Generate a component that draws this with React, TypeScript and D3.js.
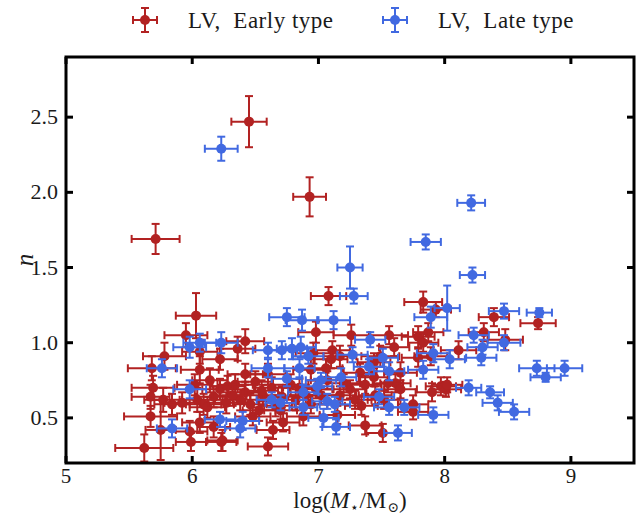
import React from "react";
import * as d3 from "d3";

// Early type (red): [logM, n, xerr, nerr]
const earlyX = [6.45,6.93,5.71,7.08,7.83,8.39,8.74,8.31,8.48,8.11,7.93,7.56,7.60,7.79,7.87,7.83,7.79,7.89,7.49,7.44,7.65,7.61,7.55,7.65,7.97,8.01,7.90,8.02,7.75,7.75,7.37,7.51,6.98,7.26,7.11,7.17,7.10,6.96,6.94,7.33,7.20,7.07,6.60,6.72,6.64,6.48,6.88,7.15,6.42,6.36,6.22,6.03,5.95,5.78,5.68,5.69,5.67,5.62,5.75,5.98,6.06,6.06,6.14,6.04,6.09,6.17,6.22,6.28,5.77,5.84,5.92,6.06,6.17,6.24,5.67,5.99,6.23,6.34,6.42,6.50,6.56,6.63,6.71,6.78,6.38,6.46,6.32,6.60,6.53,6.82,6.90,6.98,6.42,6.70,7.02,7.25,7.37,7.29,7.17,7.45,6.94,7.06,7.44,6.12,6.27,6.55,6.66,7.34,7.52,6.85,6.02];
const earlyN = [2.47,1.97,1.69,1.31,1.27,1.17,1.13,1.07,1.02,0.95,1.22,1.05,0.97,1.04,1.07,1.00,0.90,0.91,0.91,0.87,0.80,0.73,0.73,0.69,0.71,0.69,0.67,0.72,0.59,0.54,0.45,0.40,1.07,1.05,0.95,0.91,0.89,0.93,0.82,0.80,0.73,0.75,0.31,0.47,0.42,0.51,0.51,0.52,1.01,0.96,0.89,1.18,1.05,0.91,0.83,0.70,0.51,0.30,0.42,0.41,0.94,0.82,0.75,0.62,0.59,0.64,0.69,0.71,0.62,0.59,0.60,0.47,0.44,0.35,0.64,0.34,0.34,0.72,0.67,0.74,0.65,0.70,0.64,0.72,0.62,0.59,0.65,0.79,0.55,0.62,0.65,0.69,0.79,0.55,0.65,0.69,0.72,0.62,0.65,0.65,0.59,0.83,0.77,0.57,0.60,0.68,0.58,0.58,0.62,0.70,0.72];
const earlyXErr = [0.14,0.13,0.19,0.14,0.15,0.12,0.14,0.12,0.14,0.14,0.12,0.15,0.12,0.13,0.12,0.12,0.13,0.13,0.15,0.13,0.13,0.12,0.12,0.13,0.12,0.12,0.13,0.12,0.12,0.12,0.13,0.13,0.14,0.14,0.14,0.13,0.13,0.14,0.14,0.13,0.13,0.13,0.16,0.13,0.13,0.14,0.13,0.14,0.15,0.14,0.14,0.16,0.17,0.17,0.19,0.17,0.21,0.23,0.12,0.14,0.14,0.15,0.14,0.14,0.14,0.14,0.14,0.14,0.15,0.14,0.14,0.14,0.13,0.12,0.15,0.12,0.12,0.14,0.14,0.14,0.13,0.14,0.13,0.14,0.14,0.13,0.14,0.14,0.13,0.13,0.14,0.13,0.14,0.13,0.13,0.13,0.13,0.13,0.13,0.13,0.13,0.13,0.12,0.14,0.14,0.13,0.13,0.13,0.13,0.13,0.14];
const earlyNErr = [0.17,0.13,0.10,0.06,0.07,0.06,0.04,0.06,0.07,0.06,0.05,0.06,0.06,0.07,0.06,0.06,0.06,0.06,0.07,0.06,0.07,0.06,0.06,0.06,0.06,0.05,0.06,0.05,0.06,0.05,0.06,0.06,0.07,0.07,0.06,0.07,0.06,0.07,0.07,0.06,0.06,0.06,0.06,0.06,0.06,0.06,0.06,0.06,0.08,0.08,0.07,0.15,0.08,0.09,0.08,0.08,0.07,0.09,0.20,0.07,0.08,0.09,0.08,0.08,0.07,0.07,0.07,0.07,0.08,0.07,0.07,0.07,0.07,0.07,0.08,0.06,0.06,0.07,0.07,0.07,0.07,0.07,0.07,0.07,0.07,0.07,0.07,0.07,0.07,0.07,0.07,0.06,0.07,0.06,0.06,0.06,0.06,0.06,0.06,0.06,0.06,0.06,0.06,0.07,0.07,0.07,0.07,0.06,0.06,0.06,0.07];

// Late type (blue)
const lateX = [6.23,7.85,8.21,8.22,7.25,7.28,8.02,7.89,8.47,8.75,8.23,8.30,8.47,8.29,8.04,7.91,7.51,7.41,7.27,6.92,7.83,7.56,7.40,7.18,7.02,6.99,6.88,7.48,7.56,7.68,7.91,7.63,7.14,7.04,8.19,8.36,8.42,8.55,8.73,8.95,8.80,6.88,6.75,6.87,7.12,6.06,6.23,5.98,6.60,6.71,6.79,6.86,6.60,6.85,5.76,6.75,5.98,6.63,6.70,7.07,7.13,6.22,6.40,6.38,5.84];
const lateN = [2.29,1.67,1.93,1.45,1.50,1.31,1.23,1.17,1.21,1.20,1.05,0.97,1.00,0.90,0.89,0.93,0.90,1.02,0.92,0.91,0.82,0.81,0.84,0.77,0.75,0.71,0.67,0.64,0.57,0.57,0.52,0.40,0.44,0.50,0.70,0.67,0.60,0.54,0.83,0.83,0.77,0.57,1.17,1.15,1.15,1.00,1.00,0.97,0.95,0.95,0.96,0.97,0.83,0.83,0.83,0.76,0.69,0.62,0.60,0.61,0.59,0.49,0.48,0.43,0.43];
const lateXErr = [0.13,0.12,0.11,0.10,0.10,0.11,0.10,0.13,0.12,0.10,0.12,0.12,0.13,0.12,0.12,0.13,0.12,0.12,0.12,0.12,0.12,0.12,0.12,0.12,0.12,0.12,0.12,0.12,0.12,0.12,0.12,0.11,0.11,0.12,0.10,0.11,0.12,0.12,0.14,0.14,0.12,0.11,0.14,0.13,0.13,0.13,0.13,0.13,0.12,0.12,0.12,0.12,0.13,0.12,0.12,0.12,0.13,0.12,0.12,0.12,0.12,0.12,0.13,0.12,0.12];
const lateNErr = [0.08,0.05,0.05,0.05,0.14,0.05,0.15,0.07,0.05,0.03,0.05,0.05,0.05,0.05,0.06,0.06,0.06,0.05,0.05,0.05,0.06,0.06,0.05,0.06,0.05,0.05,0.05,0.05,0.05,0.05,0.05,0.05,0.05,0.06,0.05,0.04,0.05,0.05,0.05,0.05,0.03,0.05,0.06,0.07,0.06,0.06,0.07,0.07,0.05,0.06,0.07,0.07,0.06,0.06,0.06,0.05,0.06,0.05,0.05,0.05,0.05,0.05,0.06,0.06,0.06];

const xTicks = [5, 6, 7, 8, 9];
const yTicks = [0.5, 1.0, 1.5, 2.0, 2.5];
const legendLabels = ["LV,  Early type", "LV,  Late type"];

const RED = "#b22222";
const BLUE = "#4169e1";
const FONT = "'Liberation Serif', 'DejaVu Serif', serif";

const W = 636, H = 517;
const L = 66, R = 634, T = 57, B = 463;

function ErrPoint({ cx, cy, x1, x2, y1, y2, color }: any) {
  const cap = 4;
  return (
    <g stroke={color} strokeWidth={2} fill={color}>
      <line x1={x1} x2={x2} y1={cy} y2={cy} />
      <line x1={cx} x2={cx} y1={y1} y2={y2} />
      <line x1={x1} x2={x1} y1={cy - cap} y2={cy + cap} />
      <line x1={x2} x2={x2} y1={cy - cap} y2={cy + cap} />
      <line x1={cx - cap} x2={cx + cap} y1={y1} y2={y1} />
      <line x1={cx - cap} x2={cx + cap} y1={y2} y2={y2} />
      <circle cx={cx} cy={cy} r={5} stroke="none" />
    </g>
  );
}

export default function App() {
  const x = d3.scaleLinear().domain([5, 9.5]).range([L, R]);
  const y = d3.scaleLinear().domain([0.2, 2.9]).range([B, T]);

  const series = [
    { xs: earlyX, ns: earlyN, xe: earlyXErr, ne: earlyNErr, color: RED },
    { xs: lateX, ns: lateN, xe: lateXErr, ne: lateNErr, color: BLUE },
  ];

  return (
    <svg width={W} height={H} style={{ position: "absolute", left: 0, top: 0 }}>
      <defs>
        <clipPath id="plotclip">
          <rect x={L} y={T} width={R - L} height={B - T} />
        </clipPath>
      </defs>
      <g clipPath="url(#plotclip)">
        {series.map((s, si) => (
          <g key={si}>
            {s.xs.map((v, i) => (
              <ErrPoint
                key={i}
                cx={x(v)}
                cy={y(s.ns[i])}
                x1={x(v - s.xe[i])}
                x2={x(v + s.xe[i])}
                y1={y(s.ns[i] + s.ne[i])}
                y2={y(s.ns[i] - s.ne[i])}
                color={s.color}
              />
            ))}
          </g>
        ))}
      </g>
      {/* ticks */}
      <g stroke="#000" strokeWidth={3}>
        {xTicks.map((t) => (
          <g key={"xt" + t}>
            <line x1={x(t)} x2={x(t)} y1={B} y2={B - 7} />
            <line x1={x(t)} x2={x(t)} y1={T} y2={T + 7} />
          </g>
        ))}
        {yTicks.map((t) => (
          <g key={"yt" + t}>
            <line x1={L} x2={L + 7} y1={y(t)} y2={y(t)} />
            <line x1={R} x2={R - 7} y1={y(t)} y2={y(t)} />
          </g>
        ))}
      </g>
      <rect x={L} y={T} width={R - L} height={B - T} fill="none" stroke="#000" strokeWidth={3} />
      {/* tick labels */}
      <g fontFamily={FONT} fontSize={22} fill="#1a1a1a">
        {xTicks.map((t) => (
          <text key={"xl" + t} x={x(t)} y={B + 20} fontSize={21} textAnchor="middle">{t}</text>
        ))}
        {yTicks.map((t) => (
          <text key={"yl" + t} x={L - 8} y={y(t) + 7} textAnchor="end">{t.toFixed(1)}</text>
        ))}
      </g>
      {/* axis labels */}
      <text x={(L + R) / 2} y={508} textAnchor="middle" fontFamily={FONT} fontSize={23} fill="#1a1a1a">
        log(<tspan fontStyle="italic">M</tspan>
        <tspan fontSize={14} dx={1} dy={4}>⋆</tspan>
        <tspan dy={-4}>/M</tspan>
        <tspan fontSize={14} dx={1} dy={4}>⊙</tspan>
        <tspan dy={-4}>)</tspan>
      </text>
      <text transform={`translate(33, ${(T + B) / 2}) rotate(-90)`} textAnchor="middle" fontFamily={FONT} fontSize={25} fontStyle="italic" fill="#1a1a1a">n</text>
      {/* legend */}
      {series.map((s, i) => {
        const mx = i === 0 ? 145 : 395;
        const my = 20;
        return (
          <g key={"lg" + i}>
            <ErrPoint cx={mx} cy={my} x1={mx - 12} x2={mx + 12} y1={my - 12} y2={my + 12} color={s.color} />
            <text x={mx + 43} y={my + 8} fontFamily={FONT} fontSize={23} letterSpacing={0.5} fill="#1a1a1a" style={{ whiteSpace: "pre" }}>{legendLabels[i]}</text>
          </g>
        );
      })}
    </svg>
  );
}
